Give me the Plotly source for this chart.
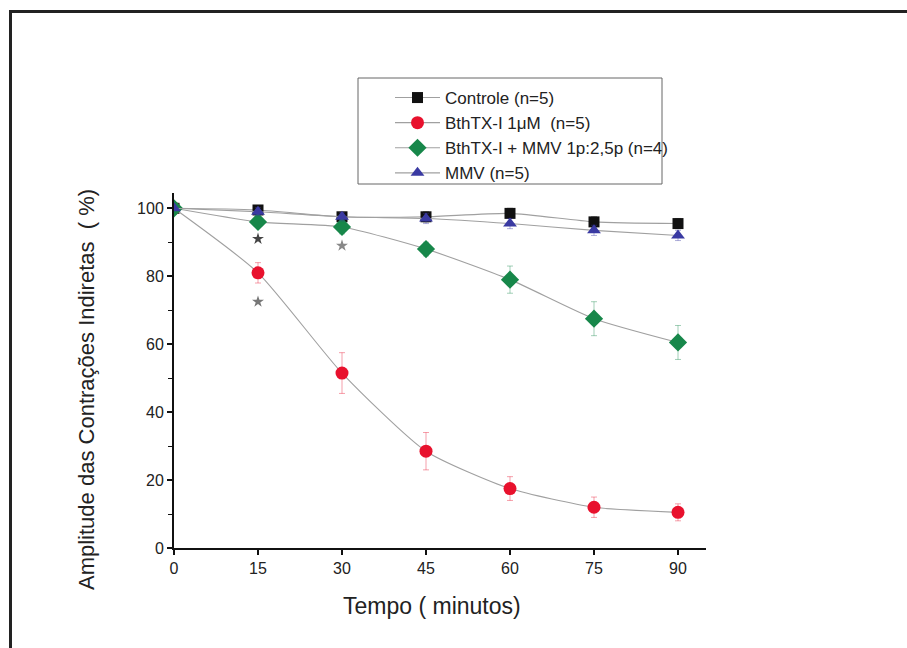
import plotly.graph_objects as go

# Tempo (minutos)
tempo = [0, 15, 30, 45, 60, 75, 90]

# Amplitude das contrações indiretas (%) por grupo
controle = [100, 99.5, 97.5, 97.5, 98.5, 96, 95.5]
controle_err = [0, 1.2, 1.2, 1.5, 1.5, 1.5, 1.5]

bthtx = [100, 81, 51.5, 28.5, 17.5, 12, 10.5]
bthtx_err = [0, 3, 6, 5.5, 3.5, 3, 2.5]

bthtx_mmv = [100, 96, 94.5, 88, 79, 67.5, 60.5]
bthtx_mmv_err = [0, 1.5, 2, 2, 4, 5, 5]

mmv = [100, 99, 97.5, 97, 95.5, 93.5, 92]
mmv_err = [0, 1.2, 1.2, 1.5, 1.5, 1.5, 1.5]

# Marcas de significância
sig_x = [15, 15, 30]
sig_y = [91, 72.5, 89]
sig_cor = ["#444444", "#777777", "#888888"]

series = [
    ("Controle (n=5)", controle, controle_err, "square", "#111111", "rgba(60,60,60,0.55)", 11),
    ("BthTX-I 1μM  (n=5)", bthtx, bthtx_err, "circle", "#e8112d", "rgba(232,17,45,0.4)", 13),
    ("BthTX-I + MMV 1p:2,5p (n=4)", bthtx_mmv, bthtx_mmv_err, "diamond", "#17874a", "rgba(23,135,74,0.4)", 14),
    ("MMV (n=5)", mmv, mmv_err, "triangle-up", "#3a3aa2", "rgba(58,58,162,0.4)", 12),
]

fig = go.Figure()
for nome, y, err, simb, cor, cor_err, tam in series:
    fig.add_trace(go.Scatter(
        x=tempo, y=y, name=nome, mode="lines+markers",
        line=dict(color="#a0a0a0", width=1.1, shape="spline", smoothing=0.6),
        marker=dict(symbol=simb, color=cor, size=tam, line=dict(width=0)),
        error_y=dict(type="data", array=err, visible=True, color=cor_err,
                     thickness=1, width=3),
    ))

fig.add_trace(go.Scatter(
    x=sig_x, y=sig_y, mode="markers", showlegend=False, hoverinfo="skip",
    marker=dict(symbol="star", size=9, color=sig_cor, line=dict(width=0)),
))

L, R, T, B = 174, 706, 193, 548
W, H = 907, 648
pw, ph = R - L, B - T

def px(xp):
    return (xp - L) / pw

def py(yp):
    return (B - yp) / ph

font = "Liberation Sans, Arial, sans-serif"
cor_txt = "#222222"

fig.update_layout(
    width=W, height=H,
    margin=dict(l=L, r=W - R, t=T, b=H - B),
    paper_bgcolor="white", plot_bgcolor="white",
    font=dict(family=font, color=cor_txt),
    showlegend=True,
    legend=dict(
        x=px(390), y=py(80), xanchor="left", yanchor="top",
        borderwidth=0, bgcolor="rgba(0,0,0,0)",
        font=dict(size=17, family=font, color=cor_txt),
        tracegroupgap=0, itemwidth=45,
    ),
    xaxis=dict(
        range=[0, 95], tickvals=tempo, ticktext=[str(t) for t in tempo],
        showgrid=False, zeroline=False, showline=True, linecolor="#111111", linewidth=2,
        ticks="outside", ticklen=5, tickwidth=1.5, tickcolor="#111111",
        tickfont=dict(size=16, color=cor_txt),
    ),
    yaxis=dict(
        range=[0, 104.5], tickvals=[0, 20, 40, 60, 80, 100],
        showgrid=False, zeroline=False, showline=True, linecolor="#111111", linewidth=2,
        ticks="outside", ticklen=5, tickwidth=1.5, tickcolor="#111111",
        tickfont=dict(size=16, color=cor_txt),
        minor=dict(tickvals=[10, 30, 50, 70, 90], ticks="outside", ticklen=4,
                   tickcolor="#111111", tickwidth=1.2),
    ),
    annotations=[
        dict(text="Tempo ( minutos)", xref="paper", yref="paper",
             x=px(432), y=py(606), xanchor="center", yanchor="middle",
             showarrow=False, font=dict(size=23, color=cor_txt)),
        dict(text="Amplitude das Contrações Indiretas  ( %)", xref="paper", yref="paper",
             x=px(86), y=py(390), xanchor="center", yanchor="middle", textangle=-90,
             showarrow=False, font=dict(size=22, color=cor_txt)),
    ],
    shapes=[
        # moldura externa
        dict(type="path", xref="paper", yref="paper",
             path=f"M {px(10.5)} {py(660)} L {px(10.5)} {py(11.5)} L {px(920)} {py(11.5)}",
             line=dict(color="#222222", width=3)),
        # caixa da legenda
        dict(type="rect", xref="paper", yref="paper",
             x0=px(358), x1=px(662), y0=py(78), y1=py(184),
             line=dict(color="#666666", width=1), fillcolor="rgba(0,0,0,0)", layer="below"),
    ],
)

fig.write_html("out.html")
